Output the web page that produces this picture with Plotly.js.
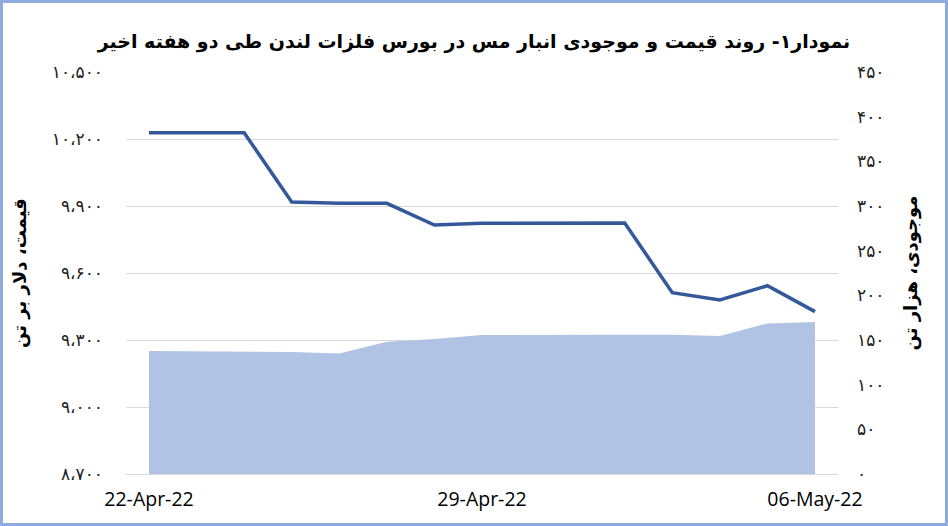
<!DOCTYPE html>
<html>
<head>
<meta charset="utf-8">
<script src="https://cdn.plot.ly/plotly-3.0.1.min.js"></script>
<style>
  html, body { margin: 0; padding: 0; background: #fff; }
  #chart { width: 948px; height: 526px; box-sizing: border-box; border: 3px solid #8FAADC; }
</style>
</head>
<body>
<div id="chart"></div>
<script>
// Dates (calendar days on a date axis)
const dates = ['2022-04-22','2022-04-24','2022-04-25','2022-04-26','2022-04-27','2022-04-28','2022-04-29','2022-05-02','2022-05-03','2022-05-04','2022-05-05','2022-05-06'];
// Copper price, USD per tonne (left axis)
const price = [10228, 10228, 9918, 9912, 9912, 9815, 9823, 9824, 9512, 9479, 9543, 9427];
// LME copper inventory, thousand tonnes (right axis)
const stock = [137.7, 137.2, 136.6, 135.0, 148.1, 151.1, 155.6, 155.9, 156.0, 154.5, 168.6, 170.2];

const xTickVals = ['2022-04-22','2022-04-29','2022-05-06'];
const xTickText = ['22-Apr-22','29-Apr-22','06-May-22'];
const leftTickVals = [8700, 9000, 9300, 9600, 9900, 10200, 10500];
const leftTickText = ['۸،۷۰۰','۹،۰۰۰','۹،۳۰۰','۹،۶۰۰','۹،۹۰۰','۱۰،۲۰۰','۱۰،۵۰۰'];
const rightTickVals = [0, 50, 100, 150, 200, 250, 300, 350, 400, 450];
const rightTickText = ['۰','۵۰','۱۰۰','۱۵۰','۲۰۰','۲۵۰','۳۰۰','۳۵۰','۴۰۰','۴۵۰'];

const titleText = 'نمودار۱- روند قیمت و موجودی انبار مس در بورس فلزات لندن طی دو هفته اخیر';
const leftTitle = 'قیمت، دلار بر تن';
const rightTitle = 'موجودی، هزار تن';

const traces = [
  {
    x: dates, y: price, type: 'scatter', mode: 'lines', yaxis: 'y',
    line: { color: '#34599A', width: 3.5 }, hoverinfo: 'skip', showlegend: false
  },
  {
    x: dates, y: stock, type: 'scatter', mode: 'lines', yaxis: 'y2',
    fill: 'tozeroy', fillcolor: '#B0C3E5', line: { width: 0, color: '#B0C3E5' },
    hoverinfo: 'skip', showlegend: false
  }
];

const persianFont = 'DejaVu Sans, sans-serif';

const layout = {
  width: 942, height: 520,
  margin: { l: 123, r: 107, t: 69, b: 49 },
  paper_bgcolor: '#ffffff', plot_bgcolor: '#ffffff',
  showlegend: false,
  title: {
    text: '<b>' + titleText + '</b>',
    font: { family: persianFont, size: 19, color: '#000' },
    x: 0.5, xanchor: 'center', xref: 'container', y: 0.926, yanchor: 'middle'
  },
  xaxis: {
    type: 'date',
    range: ['2022-04-21 12:24', '2022-05-06 11:36'],
    tickvals: xTickVals, ticktext: xTickText,
    tickfont: { family: 'Open Sans, sans-serif', size: 19.5, color: '#000' },
    showgrid: false, zeroline: false, showline: true, linecolor: '#D9D9D9', linewidth: 1,
    ticks: '', ticklabelstandoff: 8, fixedrange: true
  },
  yaxis: {
    range: [8700, 10500],
    tickvals: leftTickVals, ticktext: leftTickText,
    tickfont: { family: persianFont, size: 17, color: '#222' },
    showgrid: true, gridcolor: '#D9D9D9', gridwidth: 1,
    zeroline: false, showline: false, ticks: '', ticklabelstandoff: 22,
    title: { text: '<b>' + leftTitle + '</b>', font: { family: persianFont, size: 18, color: '#000' }, standoff: 20 },
    fixedrange: true
  },
  yaxis2: {
    range: [0, 450], overlaying: 'y', side: 'right',
    tickvals: rightTickVals, ticktext: rightTickText,
    tickfont: { family: persianFont, size: 17, color: '#222' },
    showgrid: false, zeroline: false, showline: false, ticks: '', ticklabelstandoff: 18,
    title: { text: '<b>' + rightTitle + '</b>', font: { family: persianFont, size: 18, color: '#000' }, standoff: 20 },
    fixedrange: true
  }
};

Plotly.newPlot('chart', traces, layout, { displayModeBar: false, staticPlot: true });
</script>
</body>
</html>
